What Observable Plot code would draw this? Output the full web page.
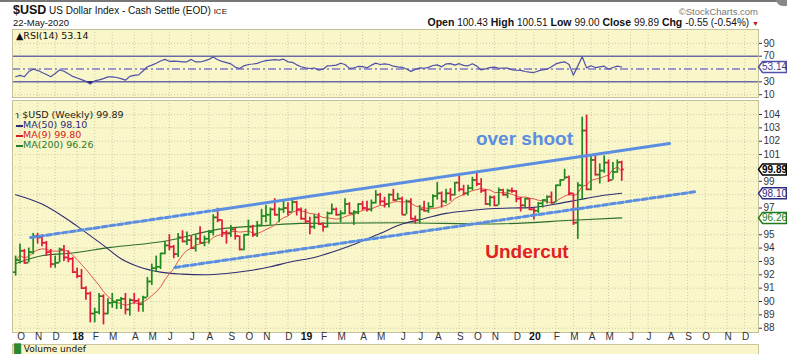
<!DOCTYPE html>
<html><head><meta charset="utf-8">
<script src="https://cdn.jsdelivr.net/npm/d3@7"></script>
<script src="https://cdn.jsdelivr.net/npm/@observablehq/plot@0.6"></script>
<style>
body{margin:0;background:#fff;width:787px;height:354px;overflow:hidden;position:relative;font-family:"Liberation Sans",Arial,sans-serif;color:#111}
.abs{position:absolute;white-space:nowrap}
#rsi{position:absolute;left:0;top:29px}
#price{position:absolute;left:0;top:98px}
.leg{position:absolute;left:16px;font-family:"DejaVu Sans",Verdana,sans-serif;font-size:9.5px;line-height:10px;white-space:nowrap}
.dash{display:inline-block;width:7px;height:2px;vertical-align:middle;margin-right:0px}
</style></head><body>
<div class="abs" style="left:0;top:0;width:787px;height:2px;background:#777"></div>
<div class="abs" style="left:776px;top:-8px;width:16px;height:14px;border-radius:8px;background:#888"></div>
<div class="abs" style="left:13px;top:3px;font-size:10px"><b style="font-size:12.5px">$USD</b> US Dollar Index - Cash Settle (EOD) <span style="font-size:8px">ICE</span></div>
<div class="abs" style="left:13px;top:17px;font-size:9.5px">22-May-2020</div>
<div class="abs" style="right:29px;top:6px;font-size:9.5px;color:#777">&copy;StockCharts.com</div>
<div class="abs" style="right:28px;top:16px;font-size:10.5px"><b>Open</b> <span style="font-size:10px">100.43</span> <b>High</b> <span style="font-size:10px">100.51</span> <b>Low</b> <span style="font-size:10px">99.00</span> <b>Close</b> <span style="font-size:10px">99.89</span> <b>Chg</b> <span style="font-size:10px">-0.55 (-0.54%)</span> <span style="color:#d01010;font-size:7px">&#9660;</span></div>
<div id="rsi"></div>
<div id="price"></div>
<div class="leg" style="top:31px;font-size:9.5px">&#9650;RSI(14) 53.14</div>
<div class="leg" style="top:110px;color:#222">&#8489; $USD (Weekly) 99.89</div>
<div class="leg" style="top:120px;color:#2b2b7a"><span class="dash" style="background:#2b2b7a"></span>MA(50) 98.10</div>
<div class="leg" style="top:130px;color:#d42020"><span class="dash" style="background:#d42020"></span>MA(9) 99.80</div>
<div class="leg" style="top:140px;color:#2a7a2a"><span class="dash" style="background:#2a7a2a"></span>MA(200) 96.26</div>
<div class="abs" style="left:12px;top:344px;width:745px;height:20px;background:#f9f6c9;border:1px solid #c9c5a0;"></div>
<div class="abs" style="left:14px;top:344px;font-family:'DejaVu Sans',sans-serif;font-size:9px;line-height:10px"><span style="color:#2a8a2a">&#9608;</span> Volume undef</div>
<script>
// ---- weekly OHLC, first bar week ending 2017-09-29 ----
const firstWeek = "2017-09-29";
const opens = [92.2,93.1,93.8,92.9,93.7,94.9,94.8,94.4,93.7,92.8,92.9,93.9,93.3,93.2,92.2,91.9,91.0,90.6,89.1,89.2,
90.4,89.1,89.9,89.95,90.1,90.2,89.4,90.1,90.05,89.8,90.3,91.5,92.5,92.6,93.6,94.2,94.1,93.55,94.8,94.5,
94.6,94.0,94.7,94.4,94.7,95.2,96.3,96.1,95.15,95.1,95.4,94.9,93.9,95.0,95.6,95.0,95.7,96.4,96.5,96.9,
96.5,96.9,97.0,96.7,97.45,96.9,96.2,96.0,95.6,96.3,95.8,95.6,96.6,96.9,96.5,96.6,97.3,96.6,96.7,97.3,
97.0,96.9,97.4,98.0,97.5,97.3,98.0,97.6,97.7,96.5,97.5,96.2,96.1,96.9,96.8,97.1,97.9,98.1,97.5,98.1,
98.0,98.9,98.4,98.1,98.5,99.1,98.8,98.3,97.3,97.8,97.2,98.35,98.0,98.3,98.27,97.7,97.2,97.7,96.9,96.8,
97.35,97.6,97.85,97.4,98.7,99.1,99.3,98.1,95.9,98.7,102.8,98.4,100.6,99.5,99.8,100.4,99.1,99.7,100.43];
const highs = [93.4,94.3,93.9,94.0,95.1,95.1,95.0,94.5,93.9,93.4,94.0,94.2,93.8,93.3,92.5,92.4,91.1,90.7,89.5,90.6,
90.5,90.2,90.6,90.1,90.3,90.6,90.2,90.6,90.2,90.4,91.8,92.8,93.4,93.6,94.5,95.0,94.2,95.1,95.3,95.2,
94.9,95.0,95.6,94.9,95.3,96.5,96.98,96.1,95.3,95.7,95.5,94.9,95.0,96.1,95.7,96.0,96.9,97.2,97.0,97.7,
97.0,97.5,97.4,97.7,97.5,97.0,96.9,96.3,96.5,96.6,95.9,96.7,97.3,97.0,96.8,97.7,97.4,96.8,97.3,97.5,
97.5,97.6,98.3,98.1,97.8,98.05,98.4,98.1,97.8,97.6,97.7,96.4,97.2,97.5,97.4,98.0,98.9,98.2,98.4,98.45,
98.9,99.37,98.7,98.7,99.3,99.67,99.2,98.4,97.9,97.9,98.5,98.4,98.4,98.5,98.3,97.8,97.7,97.7,97.0,97.4,
97.6,97.9,98.2,98.7,99.1,99.9,99.4,98.1,98.9,103.8,103.96,100.9,100.9,100.3,100.9,100.6,100.4,100.6,100.51];
const lows = [91.9,92.8,92.8,92.9,93.5,94.3,94.1,93.4,92.5,92.5,92.9,93.0,92.9,92.1,91.7,90.9,90.1,88.4,88.4,89.0,
88.25,89.0,89.5,89.4,89.4,89.0,88.9,89.8,89.2,89.2,90.3,91.2,92.2,92.4,93.5,93.8,93.2,93.3,94.4,94.2,
93.9,93.7,94.3,94.1,94.3,94.9,95.9,94.8,94.3,94.8,94.6,93.8,93.8,94.9,94.8,94.8,95.6,95.9,95.7,96.4,
95.9,96.6,96.4,96.7,96.4,96.1,95.8,95.0,95.4,95.7,95.2,95.5,96.5,96.4,95.9,96.5,96.5,95.7,96.5,96.8,
96.7,96.7,97.3,97.2,97.0,97.0,97.5,97.6,96.5,96.5,96.1,95.8,95.8,96.7,96.6,97.0,97.6,97.0,97.3,97.5,
97.9,98.2,97.9,97.9,98.3,98.6,98.1,97.2,97.1,97.1,97.2,97.9,97.7,98.1,97.4,96.7,97.0,96.8,96.1,96.6,
97.0,97.3,97.3,97.4,98.6,99.1,97.9,95.7,94.65,97.6,98.3,98.3,99.4,98.8,99.6,98.9,99.1,99.6,99.00];
const closes = [93.1,93.8,92.9,93.7,94.9,94.8,94.4,93.7,92.8,92.9,93.9,93.3,93.2,92.2,91.9,91.0,90.6,89.1,89.2,90.4,
89.1,89.9,89.95,90.1,90.2,89.4,90.1,90.05,89.8,90.3,91.5,92.5,92.6,93.6,94.2,94.1,93.55,94.8,94.5,94.6,
94.0,94.7,94.4,94.7,95.2,96.3,96.1,95.15,95.1,95.4,94.9,93.9,95.0,95.6,95.0,95.7,96.4,96.5,96.9,96.5,
96.9,97.0,96.7,97.45,96.9,96.2,96.0,95.6,96.3,95.8,95.6,96.6,96.9,96.5,96.6,97.3,96.6,96.7,97.3,97.0,
96.9,97.4,98.0,97.5,97.3,98.0,97.6,97.7,96.5,97.5,96.2,96.1,96.9,96.8,97.1,97.9,98.1,97.5,98.1,98.0,
98.9,98.4,98.1,98.5,99.1,98.8,98.3,97.3,97.8,97.2,98.35,98.0,98.3,98.27,97.7,97.2,97.7,96.9,96.8,97.35,
97.6,97.85,97.4,98.7,99.1,99.3,98.1,95.9,98.7,102.8,98.4,100.6,99.5,99.8,100.4,99.1,99.7,100.4,99.89];
const rsiValues = [38,40,38,46,49.7,48,44.5,41.5,38,43,48.5,46.5,42.5,38.5,36,33.5,30.7,26.5,31.5,33,
35,37.8,37.8,36.8,35,32.6,38.5,40,40.8,47,53.5,56,59,62.5,65,62,62.3,62,61.2,61.2,
65,61,61,62.8,65,68.8,64.5,62,60,58,53,50.8,55,57,57.8,58.8,61.3,63,64,64.6,
64,65.3,61.2,60.5,56.5,53.5,51.7,50.8,51.5,48.3,49.6,55,55.2,56,59,57,51,52,54,53.8,
52,56,59.2,57,58,57,54.4,53.4,52.7,50,46.3,49.3,51.8,51.2,52.5,55.5,56.5,53.4,58,58.5,
56,58.3,55.6,55,58.2,54.5,48.5,50.3,52.2,52.9,51.2,51.3,51.4,48.8,48.2,48,46.1,45.1,44.5,47,
48.8,49.7,53.4,58,60,61.2,57,40.4,54.9,69,51.8,55,52.3,53.4,54.5,49.7,52.3,54.5,53.14];
// ---- moving averages ----
const ma50Dates = ["2017-09-29","2017-11-10","2017-12-22","2018-01-12","2018-02-16","2018-03-16","2018-04-13","2018-05-18","2018-06-22","2018-07-27","2018-08-31","2018-10-05","2018-11-09","2018-12-14","2019-01-18","2019-02-22","2019-03-29","2019-05-03","2019-06-07","2019-07-12","2019-08-16","2019-09-20","2019-10-25","2019-11-29","2020-01-03","2020-02-07","2020-03-13","2020-04-17","2020-05-22"];
const ma50Values = [98.0,97.3,96.1,95.4,94.2,93.2,92.6,92.2,92.05,92.0,92.1,92.3,92.6,93.0,93.3,93.8,94.4,95.1,95.8,96.2,96.6,96.8,96.95,97.0,97.05,97.3,97.6,97.9,98.1];
const ma200Dates = ["2017-09-29","2017-11-12","2017-12-21","2018-02-27","2018-05-29","2018-08-17","2018-11-04","2018-12-27","2019-06-04","2019-10-21","2020-03-12","2020-05-22"];
const ma200Values = [92.85,93.45,93.6,94.05,94.55,95.4,95.7,95.85,95.9,95.8,96.1,96.26];
// ---- trend lines (annotations) ----
const upperDashDates = ["2017-10-23","2018-08-16"], upperDashValues = [94.79,96.85];
const upperSolidDates = ["2018-08-16","2020-08-06"], upperSolidValues = [96.85,101.83];
const lowerDates = ["2018-06-10","2020-09-19"], lowerValues = [92.55,98.24];
const noteTexts = ["over shoot","Undercut"], noteDates = ["2019-12-19","2019-12-23"], noteValues = [102.2,93.75];
// ---- axes ----
const monthLabels = ["O","N","D","18","F","M","A","M","J","J","A","S","O","N","D","19","F","M","A","M","J","J","A","S","O","N","D","20","F","M","A","M","J","J","A","S","O","N","D"];
const priceTicks = [88,89,90,91,92,93,94,95,97,99,101,102,103,104];
const priceGrid = [88,89,90,91,92,93,94,95,96,97,98,99,100,101,102,103,104];
const rsiTicks = [10,30,70,90];
const priceTagValues = [99.89,98.10,96.26];
const rsiTagValues = [53.14];

const BG="#f9f6c9", GRID="#cfcba8", FRAME="#c4c09a", UP="#1f8a1f", DOWN="#e01a3a";
const BLUE="#5b8ee0";
const parse = d3.utcParse("%Y-%m-%d");
const start = parse(firstWeek);
const bars = closes.map((c,i)=>({date:d3.utcDay.offset(start,7*i),open:opens[i],high:highs[i],low:lows[i],close:c,
  color: c >= (i? closes[i-1] : opens[i]) ? UP : DOWN, rsi: rsiValues[i]}));
const pts = (ds,vs)=>ds.map((d,i)=>({date:parse(d),value:vs[i]}));
const xDomain=[parse("2017-09-24"),parse("2020-12-26")];
const labels = monthLabels.map((l,i)=>({date:d3.utcFriday.ceil(d3.utcMonth.offset(parse("2017-10-01"),i)),label:l,year:/\d/.test(l)}));
const tagShape = {draw(ctx){ctx.moveTo(0,0);ctx.lineTo(4,-5.5);ctx.lineTo(28,-5.5);ctx.lineTo(28,5.5);ctx.lineTo(4,5.5);ctx.closePath();}};
const style = {background:"none",fontFamily:"'Liberation Sans',Arial,sans-serif",fontSize:"10px",color:"#333",overflow:"visible"};

const rsiPlot = Plot.plot({
  width:787,height:69,marginLeft:12,marginRight:29,marginTop:0,marginBottom:1,
  x:{domain:xDomain,axis:null},
  y:{domain:[5.6,111.6],axis:"right",ticks:rsiTicks,tickSize:3,tickPadding:2,label:null},
  color:{type:"identity"},style,
  marks:[
    Plot.frame({fill:BG}),
    Plot.ruleX(labels,{x:"date",stroke:GRID,strokeDasharray:"1,2"}),
    Plot.ruleY([10,90],{stroke:GRID,strokeDasharray:"1,2"}),
    Plot.ruleY([70,30],{stroke:"#6b6ba8",strokeWidth:1.5}),
    Plot.ruleY([50],{stroke:"#7b7bc8",strokeWidth:1.5,strokeDasharray:"8,3,2,3"}),
    Plot.areaY(bars,{x:"date",y1:30,y2:d=>Math.min(d.rsi,30),fill:"#1c1c5c"}),
    Plot.lineY(bars,{x:"date",y:"rsi",stroke:"#5050a8",strokeWidth:1.2}),
    Plot.frame({stroke:FRAME}),
    Plot.dot(rsiTagValues,{y:d=>d,frameAnchor:"right",symbol:tagShape,fill:"white",stroke:"#5050a8"}),
    Plot.text(rsiTagValues,{y:d=>d,frameAnchor:"right",textAnchor:"middle",dx:16,text:d=>d.toFixed(2),fill:"#3a3a90",fontSize:10})
  ]
});
document.getElementById("rsi").append(rsiPlot);

const tagColors = ["#000","#2c2c80","#1e7a1e"];
const pricePlot = Plot.plot({
  width:787,height:248,marginLeft:12,marginRight:29,marginTop:2,marginBottom:14,
  x:{domain:xDomain,axis:null},
  y:{domain:[87.68,105.05],axis:"right",ticks:priceTicks,tickSize:3,tickPadding:2,label:null},
  color:{type:"identity"},style,
  marks:[
    Plot.frame({fill:BG}),
    Plot.ruleX(labels,{x:"date",stroke:GRID,strokeDasharray:"1,2"}),
    Plot.ruleY(priceGrid,{stroke:GRID,strokeDasharray:"1,2"}),
    Plot.line(pts(ma200Dates,ma200Values),{x:"date",y:"value",stroke:"#2a6e2a",strokeWidth:1.1,curve:"monotone-x"}),
    Plot.line(pts(ma50Dates,ma50Values),{x:"date",y:"value",stroke:"#2e2e70",strokeWidth:1.1,curve:"monotone-x"}),
    Plot.lineY(bars,Plot.windowY({k:9,anchor:"end",reduce:"mean"},{x:"date",y:"close",stroke:"#e0574a",strokeWidth:1})),
    Plot.ruleX(bars,{x:"date",y1:"low",y2:"high",stroke:"color",strokeWidth:1.7}),
    Plot.ruleY(bars,{y:"open",x1:"date",x2:"date",insetLeft:-2.6,stroke:"color",strokeWidth:1.7}),
    Plot.ruleY(bars,{y:"close",x1:"date",x2:"date",insetRight:-2.6,stroke:"color",strokeWidth:1.7}),
    Plot.line(pts(upperDashDates,upperDashValues),{x:"date",y:"value",stroke:BLUE,strokeWidth:3,strokeDasharray:"5,3"}),
    Plot.line(pts(upperSolidDates,upperSolidValues),{x:"date",y:"value",stroke:BLUE,strokeWidth:3}),
    Plot.line(pts(lowerDates,lowerValues),{x:"date",y:"value",stroke:BLUE,strokeWidth:3,strokeDasharray:"5,3"}),
    Plot.text([0],{x:()=>parse(noteDates[0]),y:()=>noteValues[0],text:()=>noteTexts[0],fill:BLUE,fontSize:19,fontWeight:"bold"}),
    Plot.text([1],{x:()=>parse(noteDates[1]),y:()=>noteValues[1],text:()=>noteTexts[1],fill:"#e02222",fontSize:19,fontWeight:"bold"}),
    Plot.frame({stroke:FRAME}),
    Plot.dot(priceTagValues,{y:d=>d,frameAnchor:"right",symbol:tagShape,fill:"white",stroke:(d,i)=>tagColors[i]}),
    Plot.text(priceTagValues.slice(0,1),{y:d=>d,frameAnchor:"right",textAnchor:"middle",dx:16,text:d=>d.toFixed(2),fill:"#000",fontWeight:"bold",fontSize:10}),
    Plot.text(priceTagValues.slice(1),{y:d=>d,frameAnchor:"right",textAnchor:"middle",dx:16,text:d=>d.toFixed(2),fill:(d,i)=>tagColors[i+1],fontSize:10}),
    Plot.text(labels.filter(d=>!d.year),{x:"date",text:"label",frameAnchor:"bottom",dy:7,dx:1,fill:"#333",fontSize:10}),
    Plot.text(labels.filter(d=>d.year),{x:"date",text:"label",frameAnchor:"bottom",dy:7,dx:1,fill:"#111",fontSize:10.5,fontWeight:"bold"})
  ]
});
document.getElementById("price").append(pricePlot);
</script>
</body></html>
